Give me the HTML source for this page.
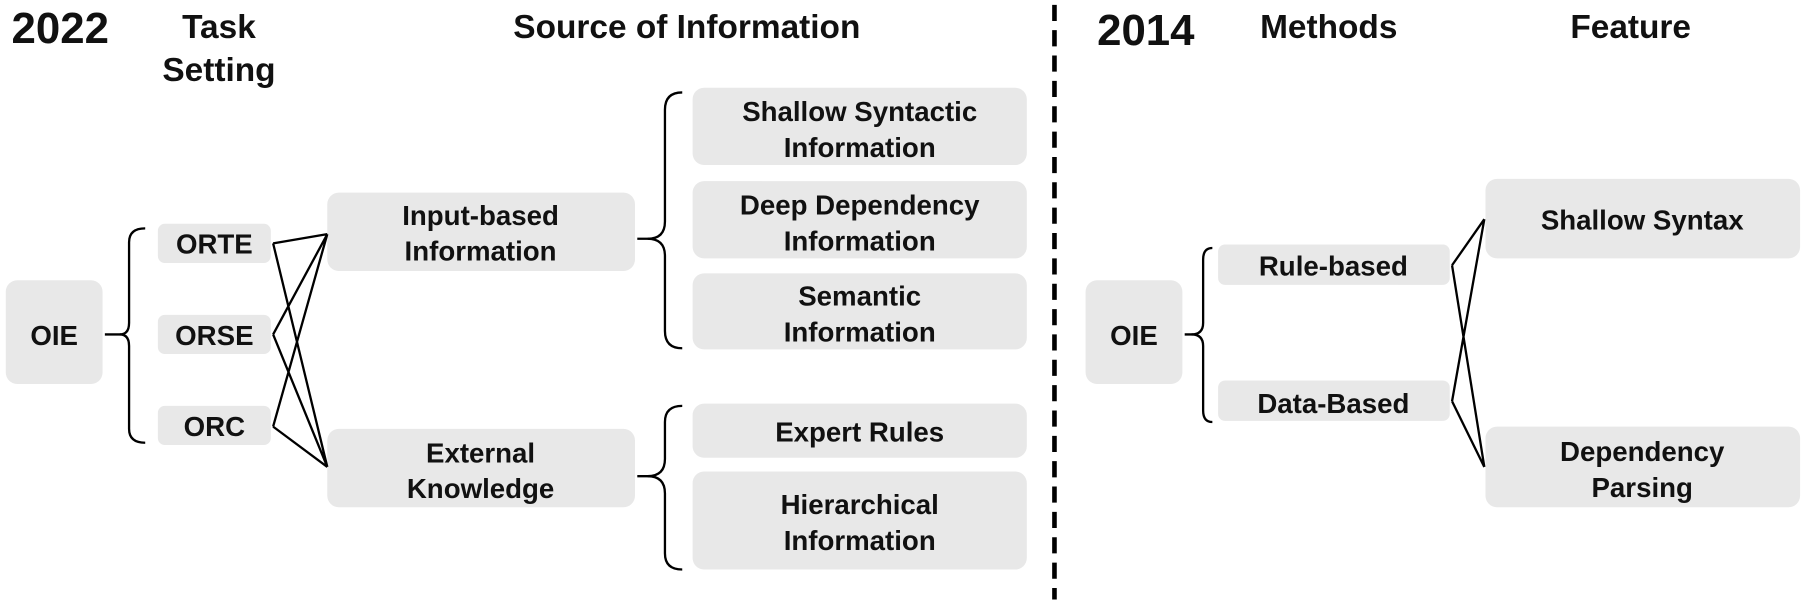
<!DOCTYPE html>
<html><head><style>html,body{margin:0;padding:0;background:#fff}svg{display:block}</style></head>
<body>
<svg width="1807" height="602" viewBox="0 0 1568 522" xmlns="http://www.w3.org/2000/svg" font-family="'Liberation Sans','DejaVu Sans',sans-serif" font-weight="bold">
<g fill="#e8e8e8">
<rect x="5" y="243" width="84" height="90" rx="10"/>
<rect x="137" y="194" width="98" height="34" rx="6"/>
<rect x="137" y="273" width="98" height="34" rx="6"/>
<rect x="137" y="352" width="98" height="34" rx="6"/>
<rect x="284" y="167" width="267" height="68" rx="10"/>
<rect x="284" y="372" width="267" height="68" rx="10"/>
<rect x="601" y="76" width="290" height="67" rx="10"/>
<rect x="601" y="157" width="290" height="67" rx="10"/>
<rect x="601" y="237" width="290" height="66" rx="10"/>
<rect x="601" y="350" width="290" height="47" rx="10"/>
<rect x="601" y="409" width="290" height="85" rx="10"/>
<rect x="942" y="243" width="84" height="90" rx="10"/>
<rect x="1057" y="212" width="201" height="35" rx="6"/>
<rect x="1057" y="330" width="201" height="35" rx="6"/>
<rect x="1289" y="155" width="273" height="69" rx="10"/>
<rect x="1289" y="370" width="273" height="70" rx="10"/>
</g>
<g fill="none" stroke="#000" stroke-width="2">
<path d="M91,290 H104 Q112,290 112,280 V210 Q112,198 126,198"/>
<path d="M104,290 Q112,290 112,300 V372 Q112,384 126,384"/>
<path d="M553,207 H562 Q577,207 577,192 V95 Q577,80 592,80"/>
<path d="M562,207 Q577,207 577,222 V287 Q577,302 592,302"/>
<path d="M553,413 H562 Q577,413 577,398 V366 Q577,352 592,352"/>
<path d="M562,413 Q577,413 577,428 V480 Q577,494 592,494"/>
<path d="M1028,290 H1034 Q1044,290 1044,280 V225 Q1044,215 1052,215"/>
<path d="M1034,290 Q1044,290 1044,300 V356 Q1044,366 1052,366"/>
<path d="M237,211 L284,203 M237,211 L284,405 M237,290 L284,203 M237,290 L284,405 M237,370 L284,203 M237,370 L284,405"/>
<path d="M1260,230 L1288,190 M1260,230 L1288,405 M1260,348 L1288,190 M1260,348 L1288,405"/>
</g>
<line x1="915" y1="4" x2="915" y2="520" stroke="#000" stroke-width="4" stroke-dasharray="14,8"/>
<g fill="#111" font-size="38">
<text x="10" y="37">2022</text>
<text x="952" y="39">2014</text>
</g>
<g fill="#111" font-size="29" text-anchor="middle">
<text x="190" y="33">Task</text>
<text x="190" y="70">Setting</text>
<text x="596" y="33">Source of Information</text>
<text x="1153" y="33">Methods</text>
<text x="1415" y="33">Feature</text>
</g>
<g fill="#111" font-size="24" text-anchor="middle">
<text x="47" y="299">OIE</text>
<text x="186" y="220">ORTE</text>
<text x="186" y="299">ORSE</text>
<text x="186" y="378">ORC</text>
<text x="417" y="195">Input-based</text>
<text x="417" y="226">Information</text>
<text x="417" y="401">External</text>
<text x="417" y="432">Knowledge</text>
<text x="746" y="105">Shallow Syntactic</text>
<text x="746" y="136">Information</text>
<text x="746" y="186">Deep Dependency</text>
<text x="746" y="217">Information</text>
<text x="746" y="265">Semantic</text>
<text x="746" y="296">Information</text>
<text x="746" y="383">Expert Rules</text>
<text x="746" y="446">Hierarchical</text>
<text x="746" y="477">Information</text>
<text x="984" y="299">OIE</text>
<text x="1157" y="239">Rule-based</text>
<text x="1157" y="358">Data-Based</text>
<text x="1425" y="199">Shallow Syntax</text>
<text x="1425" y="400">Dependency</text>
<text x="1425" y="431">Parsing</text>
</g>
</svg>
</body></html>
